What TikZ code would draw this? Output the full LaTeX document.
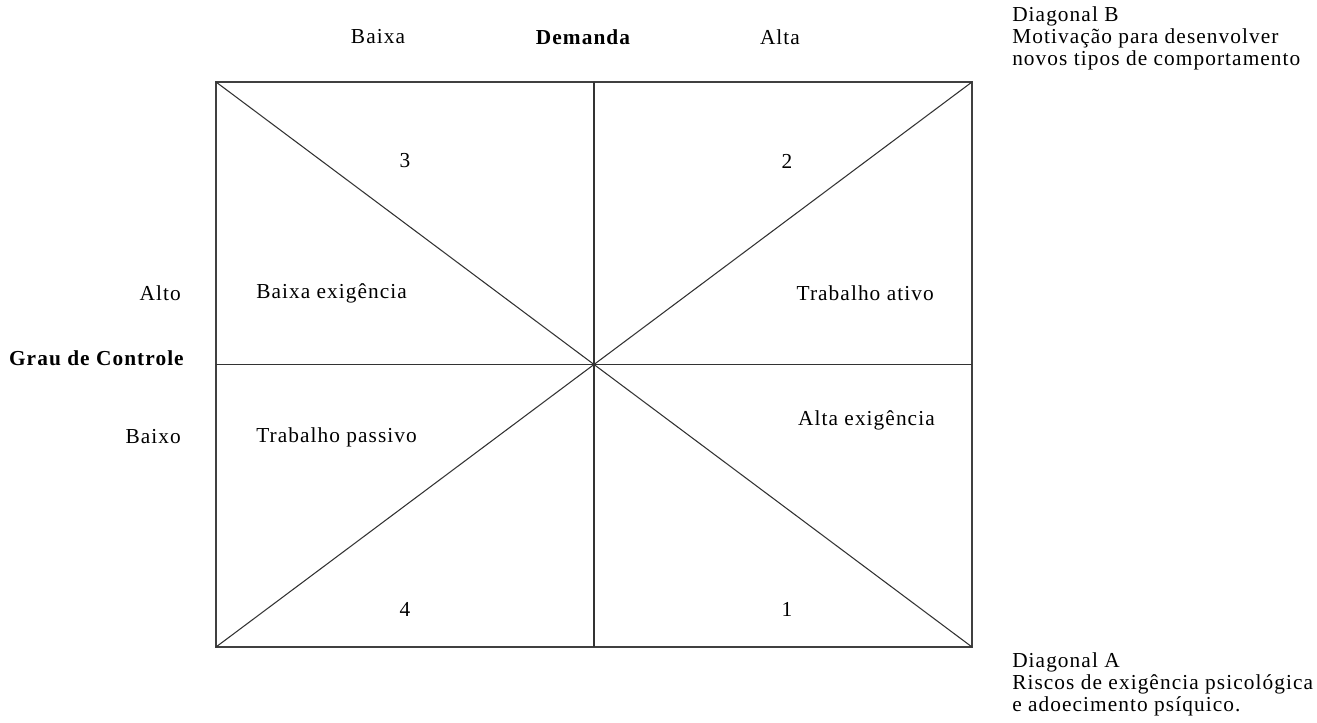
\documentclass[tikz,border=0pt]{standalone}
\usepackage{fontspec}
\setmainfont{Liberation Serif}[LetterSpace=5]
\begin{document}
\begin{tikzpicture}[x=0.75pt,y=-0.75pt,
    txt/.style={font=\fontsize{16}{16.5}\selectfont,inner sep=0pt},
    bold/.style={txt,font=\fontsize{16}{16.5}\selectfont\bfseries}]
\useasboundingbox (0,0) rectangle (1317,723);
\coordinate (tl) at (216,82);
\coordinate (tr) at (972,82);
\coordinate (bl) at (216,647);
\coordinate (br) at (972,647);
\coordinate (tm) at (594,82);
\coordinate (bm) at (594,647);
\coordinate (lm) at (216,364.5);
\coordinate (rm) at (972,364.5);
\draw[line width=0.9pt,black!75](tl)rectangle(br);
\draw[line width=0.8pt,black!80](tm)--(bm);
\draw[line width=0.8pt,black!80](lm)--(rm);
\draw[line width=0.8pt,black!80](tl)--(br);
\draw[line width=0.8pt,black!80](bl)--(tr);
% eixo da demanda
\node[txt](baixa) at (378,37){Baixa};
\node[bold](demanda) at (583,37){Demanda};
\node[txt](alta) at (780,37){Alta};
% eixo do controle
\node[txt,anchor=east](alto) at (181,293){Alto};
\node[bold,anchor=east](grau) at (184,358){Grau de Controle};
\node[txt,anchor=east](baixo) at (181,437){Baixo};
% quadrantes
\node[txt](n3) at (405,161){3};
\node[txt](n2) at (787,161){2};
\node[txt](n4) at (405,609){4};
\node[txt](n1) at (787,609){1};
\node[txt,anchor=west](bx) at (256,293){Baixa exigência};
\node[txt,anchor=east](ta) at (934,293){Trabalho ativo};
\node[txt,anchor=west](tp) at (256,437){Trabalho passivo};
\node[txt,anchor=east](ae) at (935,420){Alta exigência};
% diagonais
\node[txt,anchor=west,align=left](diagB) at (1012,38){Diagonal B\\Motivação para desenvolver\\novos tipos de comportamento};
\node[txt,anchor=west,align=left](diagA) at (1012,684){Diagonal A\\Riscos de exigência psicológica\\e adoecimento psíquico.};
\end{tikzpicture}
\end{document}
